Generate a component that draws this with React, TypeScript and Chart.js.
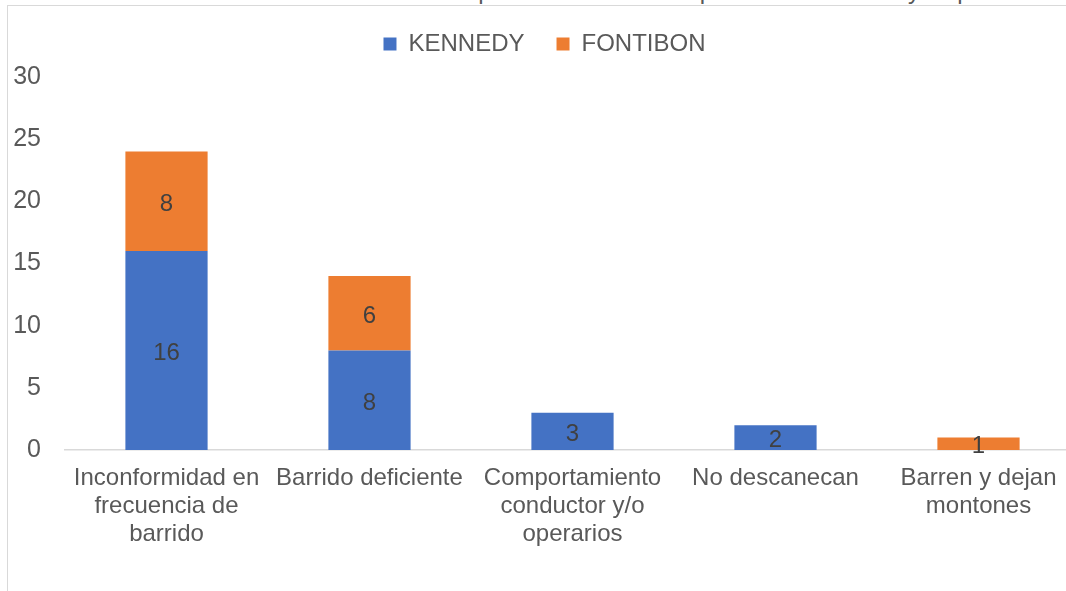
import React, { useEffect, useRef } from "react";
import { Chart, registerables } from "chart.js";

Chart.register(...registerables);

const title = "Gráfica 3 Inconformidades mes de Septiembre con el Componente de barrido y limpieza";
const categories: (string | string[])[] = [
  ["Inconformidad en", "frecuencia de", "barrido"],
  "Barrido deficiente",
  ["Comportamiento", "conductor y/o", "operarios"],
  "No descanecan",
  ["Barren y dejan", "montones"],
];
const seriesNames = ["KENNEDY", "FONTIBON"];
const kennedy = [16, 8, 3, 2, 0];
const fontibon = [8, 6, 0, 0, 1];
const seriesColors = ["#4472C4", "#ED7D31"];
const yTicks = { min: 0, max: 30, step: 5 };

const FONT = "'Liberation Sans', Arial, sans-serif";

const labelPlugin = {
  id: "barLabels",
  afterInit(chart: any) {
    const lg = chart.legend;
    if (lg) {
      const orig = lg.fit;
      lg.fit = function (this: any) {
        orig.call(this);
        this.height = 77;
      };
    }
  },
  afterDatasetsDraw(chart: any) {
    const ctx = chart.ctx;
    ctx.save();
    ctx.font = `24px ${FONT}`;
    ctx.fillStyle = "#404040";
    ctx.textAlign = "center";
    ctx.textBaseline = "middle";
    chart.data.datasets.forEach((ds: any, di: number) => {
      const meta = chart.getDatasetMeta(di);
      meta.data.forEach((el: any, i: number) => {
        const v = ds.data[i];
        if (!v) return;
        ctx.fillText(String(v), el.x, (el.y + el.base) / 2 + 3);
      });
    });
    ctx.restore();
  },
};

export default function App() {
  const ref = useRef<HTMLCanvasElement>(null);
  useEffect(() => {
    if (!ref.current) return;
    const chart = new Chart(ref.current, {
      type: "bar",
      data: {
        labels: categories,
        datasets: [
          { label: seriesNames[0], data: kennedy, backgroundColor: seriesColors[0] },
          { label: seriesNames[1], data: fontibon, backgroundColor: seriesColors[1] },
        ],
      },
      options: {
        responsive: false,
        animation: false,
        devicePixelRatio: 1,
        datasets: { bar: { barPercentage: 0.405, categoryPercentage: 1 } },
        layout: { padding: 0 },
        plugins: {
          legend: {
            position: "top",
            labels: {
              boxWidth: 13,
              boxHeight: 13,
              color: "#595959",
              font: { family: FONT, size: 24 },
              padding: 32,
            },
          },
          tooltip: { enabled: false },
          title: { display: false },
        },
        scales: {
          x: {
            stacked: true,
            grid: { display: false, drawTicks: false },
            border: { display: true, color: "#d9d9d9", width: 1.5 },
            ticks: {
              color: "#595959",
              font: { family: FONT, size: 24, lineHeight: 1.167 },
              maxRotation: 0,
              autoSkip: false,
              padding: 14,
            },
            afterFit: (s: any) => {
              s.height = 141;
            },
          },
          y: {
            stacked: true,
            min: yTicks.min,
            max: yTicks.max,
            grid: { display: false, drawTicks: false },
            border: { display: false },
            ticks: {
              stepSize: yTicks.step,
              color: "#595959",
              font: { family: FONT, size: 25 },
              padding: 24,
            },
            afterFit: (s: any) => {
              s.width = 56;
            },
          },
        },
      },
      plugins: [labelPlugin],
    });
    return () => chart.destroy();
  }, []);

  return (
    <div style={{ position: "fixed", left: 0, top: 0, width: "100vw", height: "100vh", overflow: "hidden", background: "#fff" }}>
      <div
        style={{
          position: "absolute",
          left: 0,
          top: -23,
          width: 1090,
          textAlign: "center",
          fontFamily: FONT,
          fontSize: 24,
          lineHeight: "28px",
          color: "#595959",
          whiteSpace: "nowrap",
        }}
      >
        {title}
      </div>
      <div
        style={{
          position: "absolute",
          left: 7,
          top: 5,
          width: 1200,
          height: 700,
          borderLeft: "1.5px solid #d9d9d9",
          borderTop: "1.5px solid #d9d9d9",
        }}
      />
      <canvas ref={ref} width={1071} height={591} style={{ position: "absolute", left: 9, top: 0 }} />
    </div>
  );
}
